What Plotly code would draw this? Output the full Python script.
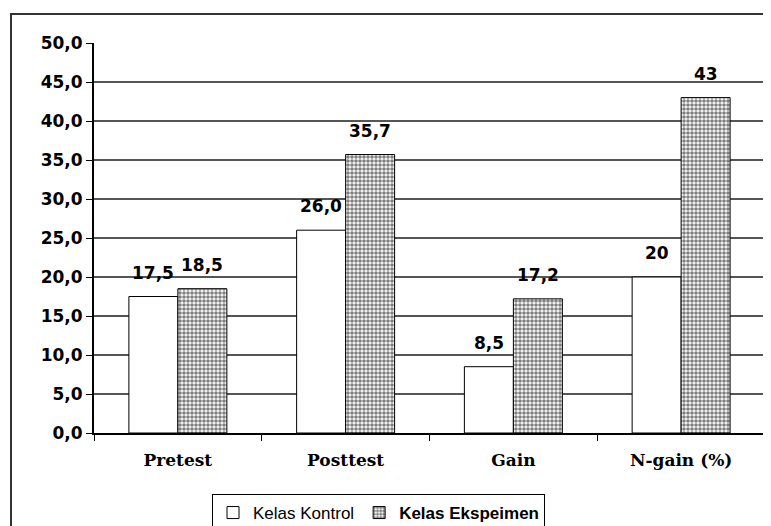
import plotly.graph_objects as go

categories = ["Pretest", "Posttest", "Gain", "N-gain (%)"]
kontrol = [17.5, 26.0, 8.5, 20]
eksperimen = [18.5, 35.7, 17.2, 43]
kontrol_labels = ["17,5", "26,0", "8,5", "20"]
eksperimen_labels = ["18,5", "35,7", "17,2", "43"]
y_ticks = [0, 5, 10, 15, 20, 25, 30, 35, 40, 45, 50]

label_font = dict(family="DejaVu Sans", size=17, color="black", weight="bold")

# page body has an 8px default margin, so the figure is sized to fit the window
W, H = 763, 518

fig = go.Figure()
fig.add_trace(go.Bar(
    x=categories, y=kontrol, name="Kelas Kontrol",
    marker=dict(color="white", line=dict(color="black", width=1)),
))
fig.add_trace(go.Bar(
    x=categories, y=eksperimen, name="<b>Kelas Ekspeimen</b>",
    marker=dict(color="white", line=dict(color="black", width=1),
                pattern=dict(shape=".", fgcolor="black", bgcolor="white",
                             size=4, solidity=0.65, fillmode="overlay")),
))

annotations = []
for cat, v, t in zip(categories, kontrol, kontrol_labels):
    annotations.append(dict(x=cat, y=v, text=t, showarrow=False, xshift=-24.5,
                            yshift=12, yanchor="bottom", font=label_font))
for cat, v, t in zip(categories, eksperimen, eksperimen_labels):
    annotations.append(dict(x=cat, y=v, text=t, showarrow=False, xshift=24.5,
                            yshift=12, yanchor="bottom", font=label_font))

fig.update_layout(
    width=W, height=H,
    margin=dict(l=86, r=6, t=35, b=93, autoexpand=False),
    paper_bgcolor="white", plot_bgcolor="white",
    separators=",.",
    barmode="group", bargap=0.416, bargroupgap=0,
    showlegend=True,
    legend=dict(orientation="h", xref="container", yref="container",
                x=204 / W, xanchor="left", y=(H - 486) / H, yanchor="top",
                bordercolor="black", borderwidth=1, bgcolor="white",
                font=dict(family="Liberation Sans", size=17, color="black"),
                itemwidth=30, tracegroupgap=0),
    annotations=annotations,
    xaxis=dict(
        automargin=False,
        showline=True, linecolor="black", linewidth=2,
        ticks="outside", tickson="boundaries", ticklen=6, tickcolor="black", tickwidth=1,
        ticklabelstandoff=11,
        tickfont=dict(family="DejaVu Serif", size=17, color="black", weight="bold"),
        showgrid=False,
    ),
    yaxis=dict(
        automargin=False,
        range=[0, 50], tickvals=y_ticks, tickformat=".1f",
        showline=True, linecolor="black", linewidth=2,
        ticks="outside", ticklen=6, tickcolor="black", tickwidth=1,
        tickfont=dict(family="DejaVu Sans", size=17, color="black", weight="bold"),
        showgrid=True, gridcolor="#555555", gridwidth=1.5,
        zeroline=False,
    ),
    shapes=[
        dict(type="rect", xref="paper", yref="paper",
             xsizemode="pixel", ysizemode="pixel", xanchor=0, yanchor=0,
             x0=-83, x1=720, y0=-200, y1=419,
             line=dict(color="#333333", width=2), fillcolor="rgba(0,0,0,0)", layer="below"),
        dict(type="line", xref="paper", yref="paper", x0=1, x1=1, y0=0, y1=1,
             line=dict(color="#cccccc", width=1)),
    ],
)

fig.write_html("out.html")
